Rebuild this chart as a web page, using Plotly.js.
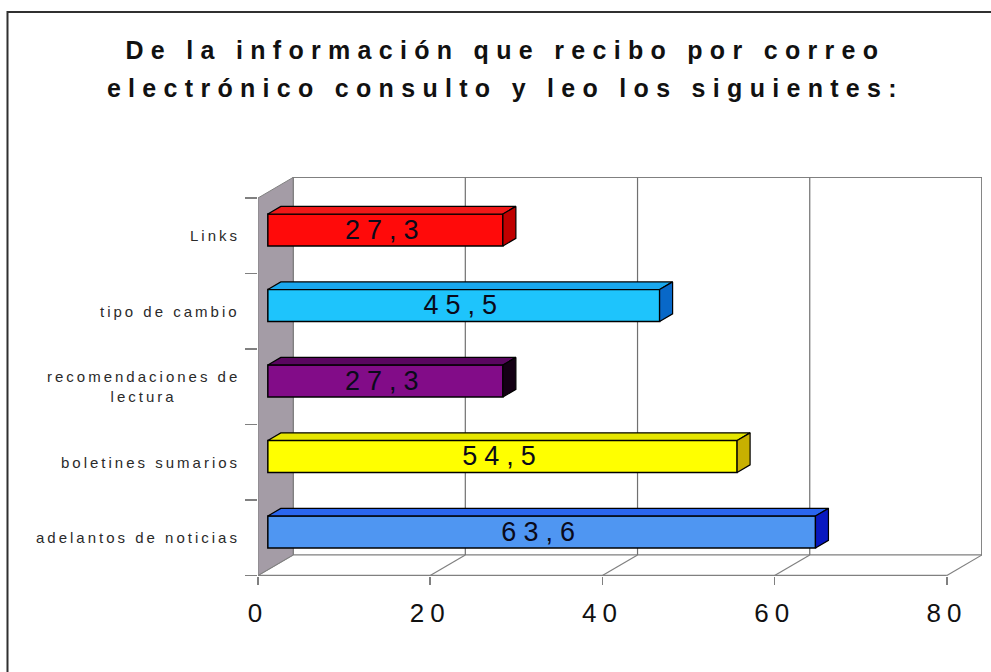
<!DOCTYPE html>
<html>
<head>
<meta charset="utf-8">
<script src="https://cdn.plot.ly/plotly-3.0.1.min.js"></script>
<style>
  html, body { margin: 0; padding: 0; background: #ffffff; }
  #chart { width: 991px; height: 672px; }
  .gtitle { letter-spacing: 7.3px; }
  .xtick text { letter-spacing: 6px; }
  .bartext { letter-spacing: 7px; }
  .annotation-text { letter-spacing: 3px; }
</style>
</head>
<body>
<div id="chart"></div>
<script>
// ---- data ----
const categories = ["Links", "tipo de cambio", "recomendaciones de<br>lectura", "boletines sumarios", "adelantos de noticias"];
const values = [27.3, 45.5, 27.3, 54.5, 63.6];
const frontColors = ["#ff0a0a", "#1ec4fc", "#820c88", "#ffff00", "#4f96f2"];
const topColors   = ["#f01818", "#1aa8ee", "#5a0660", "#e6e600", "#2a66f0"];
const sideColors  = ["#c00000", "#0868c8", "#140014", "#c8b000", "#0818c0"];
const tickVals = [0, 20, 40, 60, 80];
const tickText = ["0", "20", "40", "60", "80"];
const titleText = 'De la información que recibo por correo<br>electrónico consulto y leo los siguientes:';

// ---- 3D geometry constants (style) ----
const DX = 4.076;   // depth offset in value units
const DY = 0.272;   // depth offset in category units
const F1 = 0.28;    // bar front plane depth fraction
const F2 = 0.37;    // bar depth fraction
const W = 0.424;    // bar thickness
const XMAX = 80;

const n = categories.length;
const pos = categories.map((c, i) => n - 1 - i);
const base = F1 * DX;
const barY = pos.map(p => p + F1 * DY);
const ddx = F2 * DX, ddy = F2 * DY;

const fmt = v => v.toFixed(1).replace('.', ',');
const FONT = 'Liberation Sans, Arial, sans-serif';

const traces = [];
traces.push({
  type: 'bar', orientation: 'h',
  x: values, y: barY, base: base, width: W,
  marker: { color: frontColors, line: { color: '#000', width: 1.5 } },
  text: values.map(fmt), textposition: 'inside', insidetextanchor: 'middle',
  constraintext: 'none',
  textfont: { family: FONT, size: 27, color: '#0a0a1a' },
  hoverinfo: 'skip', showlegend: false, cliponaxis: false
});

values.forEach((v, i) => {
  const b0 = base, b1 = base + v;
  const yt = barY[i] + W / 2, yb = barY[i] - W / 2;
  traces.push({
    type: 'scatter', mode: 'lines', fill: 'toself',
    x: [b0, b1, b1 + ddx, b0 + ddx, b0],
    y: [yt, yt, yt + ddy, yt + ddy, yt],
    fillcolor: topColors[i], line: { color: '#000', width: 1.2 },
    hoverinfo: 'skip', showlegend: false, cliponaxis: false
  });
  traces.push({
    type: 'scatter', mode: 'lines', fill: 'toself',
    x: [b1, b1, b1 + ddx, b1 + ddx, b1],
    y: [yb, yt, yt + ddy, yb + ddy, yb],
    fillcolor: sideColors[i], line: { color: '#000', width: 1.2 },
    hoverinfo: 'skip', showlegend: false, cliponaxis: false
  });
});

const yLo = -0.5, yHi = n - 0.5;
const shapes = [];
shapes.push({ type: 'rect', xref: 'x', yref: 'y', layer: 'below',
  x0: DX, x1: XMAX + DX, y0: yLo + DY, y1: yHi + DY,
  fillcolor: '#ffffff', line: { color: '#808080', width: 1.2 } });
tickVals.forEach(v => {
  shapes.push({ type: 'line', xref: 'x', yref: 'y', layer: 'below',
    x0: v + DX, x1: v + DX, y0: yLo + DY, y1: yHi + DY,
    line: { color: '#707070', width: 1.2 } });
  shapes.push({ type: 'line', xref: 'x', yref: 'y', layer: 'below',
    x0: v, x1: v + DX, y0: yLo, y1: yLo + DY,
    line: { color: '#808080', width: 1.2 } });
});
shapes.push({ type: 'line', xref: 'x', yref: 'y', layer: 'below',
  x0: 0, x1: XMAX, y0: yLo, y1: yLo, line: { color: '#808080', width: 1.5 } });
shapes.push({ type: 'path', xref: 'x', yref: 'y', layer: 'below',
  path: `M 0 ${yLo} L 0 ${yHi} L ${DX} ${yHi + DY} L ${DX} ${yLo + DY} Z`,
  fillcolor: '#a49ca6', line: { color: '#808080', width: 1 } });
shapes.push({ type: 'rect', xref: 'paper', yref: 'paper', layer: 'above',
  x0: -0.346, x1: 1.2, y0: -0.6, y1: 1.4135,
  fillcolor: 'rgba(0,0,0,0)', line: { color: '#303030', width: 2 } });

const annotations = categories.map((c, i) => ({
  xref: 'x', yref: 'y', x: 0, y: pos[i], xanchor: 'right', yanchor: 'middle',
  xshift: -16, text: c, showarrow: false, align: 'center',
  font: { family: FONT, size: 15, color: '#2a2a2a' }
}));

const layout = {
  width: 991, height: 672,
  margin: { l: 258, r: 9, t: 177, b: 96, pad: 0 },
  paper_bgcolor: '#ffffff', plot_bgcolor: 'rgba(0,0,0,0)',
  title: {
    text: titleText,
    x: 0.51, xanchor: 'center', y: 0.912, yanchor: 'middle',
    font: { family: FONT, size: 25, color: '#111', weight: 'bold' }
  },
  xaxis: {
    range: [0, 84.08], showgrid: false, zeroline: false, showline: false,
    tickvals: tickVals, ticktext: tickText, ticks: 'outside', ticklen: 8,
    tickcolor: '#808080', tickwidth: 1.5, ticklabelstandoff: 6,
    tickfont: { family: FONT, size: 26, color: '#111' },
    fixedrange: true
  },
  yaxis: {
    range: [-0.507, 4.778], showgrid: false, zeroline: false, showline: false,
    tickvals: [-0.5, 0.5, 1.5, 2.5, 3.5, 4.5], ticks: 'outside', ticklen: 12,
    tickcolor: '#808080', tickwidth: 1.2, showticklabels: false, fixedrange: true
  },
  shapes: shapes,
  annotations: annotations,
  bargap: 0,
  showlegend: false
};

Plotly.newPlot('chart', traces, layout, { displayModeBar: false, staticPlot: true }).then(() => {
  // widen the title line spacing to match the reference
  const lines = document.querySelectorAll('.gtitle tspan.line');
  if (lines.length === 2) {
    lines[1].setAttribute('dy', '1.52em');
  }
});
</script>
</body>
</html>
